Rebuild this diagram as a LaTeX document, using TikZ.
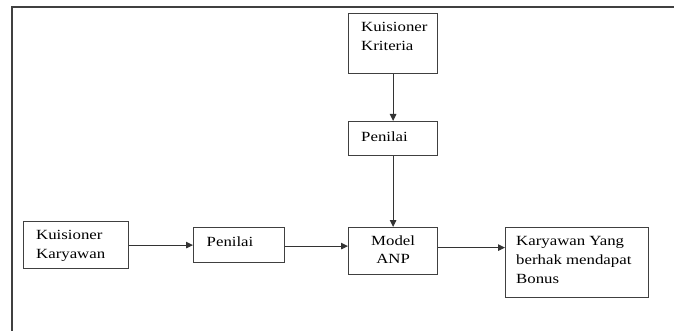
\documentclass[tikz,border=0pt]{standalone}
\usepackage{fontspec}
\setmainfont[FakeStretch=1.2]{Liberation Serif}
\usetikzlibrary{arrows.meta}
\begin{document}
\begin{tikzpicture}[x=1pt,y=-1pt,
  box/.style={draw=black!75, line width=1.2pt, rectangle, inner sep=0pt, anchor=north west},
  txt/.style={inner sep=0pt, anchor=north west, align=left, font=\fontsize{14pt}{19pt}\selectfont},
  ctxt/.style={inner sep=0pt, anchor=north, align=center, font=\fontsize{14pt}{18pt}\selectfont},
  conn/.style={draw=black!80, line width=1pt, -{Triangle[length=7pt,width=6.5pt]}},
  frame/.style={draw=black!75, line width=1.3pt}]
\useasboundingbox (0,0) rectangle (674,331);
% outer frame (partial)
\coordinate (ftl) at (12,7);
\coordinate (ftr) at (674,7);
\coordinate (fbl) at (12,331);
\draw[frame] (ftr) -- (ftl) -- (fbl);
% boxes
\node[box, minimum width=89pt, minimum height=60pt] (kkrit) at (348,13) {};
\node[box, minimum width=89pt, minimum height=34pt] (pt) at (348,121) {};
\node[box, minimum width=89pt, minimum height=47pt] (model) at (348,227) {};
\node[box, minimum width=105pt, minimum height=47pt] (kkar) at (23,221) {};
\node[box, minimum width=91pt, minimum height=35pt] (pl) at (193,227) {};
\node[box, minimum width=143pt, minimum height=70pt] (kb) at (505,227) {};
% texts
\node[txt] (t1) at ([xshift=13pt,yshift=-9.5pt]kkrit.north west) {Kuisioner\\Kriteria};
\node[txt] (t2) at ([xshift=13pt,yshift=-10.5pt]pt.north west) {Penilai};
\node[ctxt] (t3) at ([yshift=-9pt]model.north) {Model\\ANP};
\node[txt] (t4) at ([xshift=13pt,yshift=-9pt]kkar.north west) {Kuisioner\\Karyawan};
\node[txt] (t5) at ([xshift=13.5pt,yshift=-9.5pt]pl.north west) {Penilai};
\node[txt] (t6) at ([xshift=11pt,yshift=-9.5pt]kb.north west) {Karyawan Yang\\berhak mendapat\\Bonus};
% connectors
\draw[conn] (kkrit.south) -- (pt.north);
\draw[conn] (pt.south) -- (model.north);
\draw[conn] (kkar.east) -- (kkar.east -| pl.west);
\draw[conn] ([yshift=-1pt]pl.east) -- ([yshift=-1pt]pl.east -| model.west);
\draw[conn] ([yshift=3.5pt]model.east) -- ([yshift=3.5pt]model.east -| kb.west);
\end{tikzpicture}
\end{document}
